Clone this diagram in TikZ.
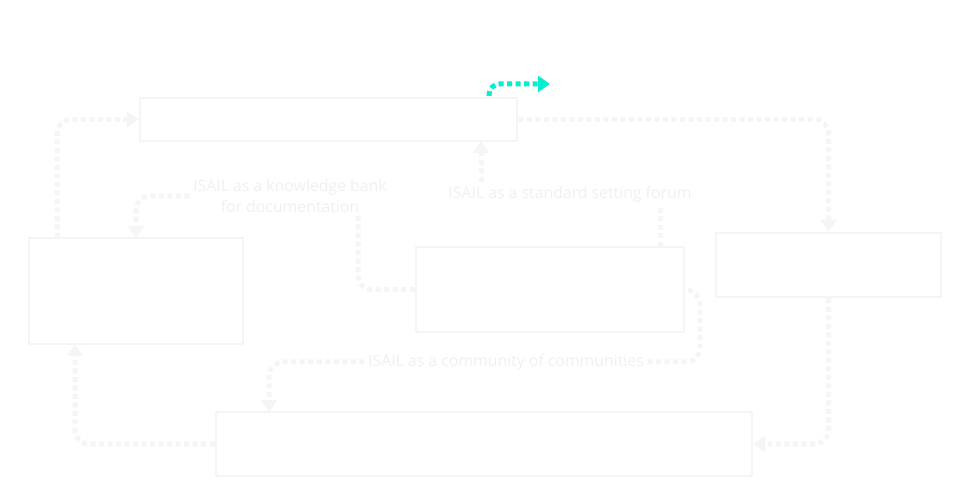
\documentclass[tikz,border=0pt]{standalone}
\usepackage{fontspec}
\setmainfont{Open Sans}
\usetikzlibrary{arrows.meta, positioning}
\definecolor{faint}{HTML}{F5F5F5}
\definecolor{faintTxt}{HTML}{F0F0F0}
\definecolor{aqua}{HTML}{00F0D0}
\tikzset{
  % box style
  blk/.style={draw=faint, line width=0.5mm, fill=white, inner sep=0pt},
  % dotted connector
  darr/.style={draw=faint, line width=1mm, dotted, rounded corners=8pt},
  tip/.style={-{Triangle[length=2.4mm,width=3.2mm]}},
  lbl/.style={text=faintTxt, font=\fontsize{9}{12}\selectfont, align=center, fill=white, inner sep=2pt},
}
\begin{document}
\begin{tikzpicture}[x=0.02cm, y=-0.02cm]
  \useasboundingbox (0,0) rectangle (980,499);

  \node (top) [blk, minimum width=377*0.02cm, minimum height=43*0.02cm] at (328.5,119.5) {};
  \node (lft) [blk, minimum width=214*0.02cm, minimum height=106*0.02cm] at (136,291) {};
  \node (mid) [blk, minimum width=268*0.02cm, minimum height=85*0.02cm] at (550,289.5) {};
  \node (rgt) [blk, minimum width=225*0.02cm, minimum height=64*0.02cm] at (828.5,265) {};
  \node (bot) [blk, minimum width=536*0.02cm, minimum height=64*0.02cm] at (484,444) {};

  \node (know) [lbl] at (290,196) {ISAIL as a knowledge bank\\for documentation};
  \node (forum) [lbl] at (570,194) {ISAIL as a standard setting forum};
  \node (comm) [lbl] at (506,362) {ISAIL as a community of communities};

  \coordinate (cs) at (489,96);
  \coordinate (ce) at (550,84);

  % outer loop
  \draw[darr,tip] (57,238) |- (top.west);
  \draw[darr,tip] (top.east) -| (rgt.north);
  \draw[darr,tip] (rgt.south) |- (bot.east);
  \draw[darr,tip] (bot.west) -| (75,344);

  % role links
  \draw[darr,tip] (know.west) -| (136,238);
  \draw[darr] (mid.west) -| (358,214);
  \draw[darr,tip] (481,182) -- (481,141);
  \draw[darr] (660,247) -- (660,206);
  \draw[darr,tip] (comm.west) -| (269,412);
  \draw[darr] (comm.east) -| (700,290) -- (684,290);

  \draw[aqua, line width=1mm, dotted, rounded corners=6pt, -{Triangle[length=2.4mm,width=3.2mm]}] (cs) |- (ce);
\end{tikzpicture}
\end{document}
